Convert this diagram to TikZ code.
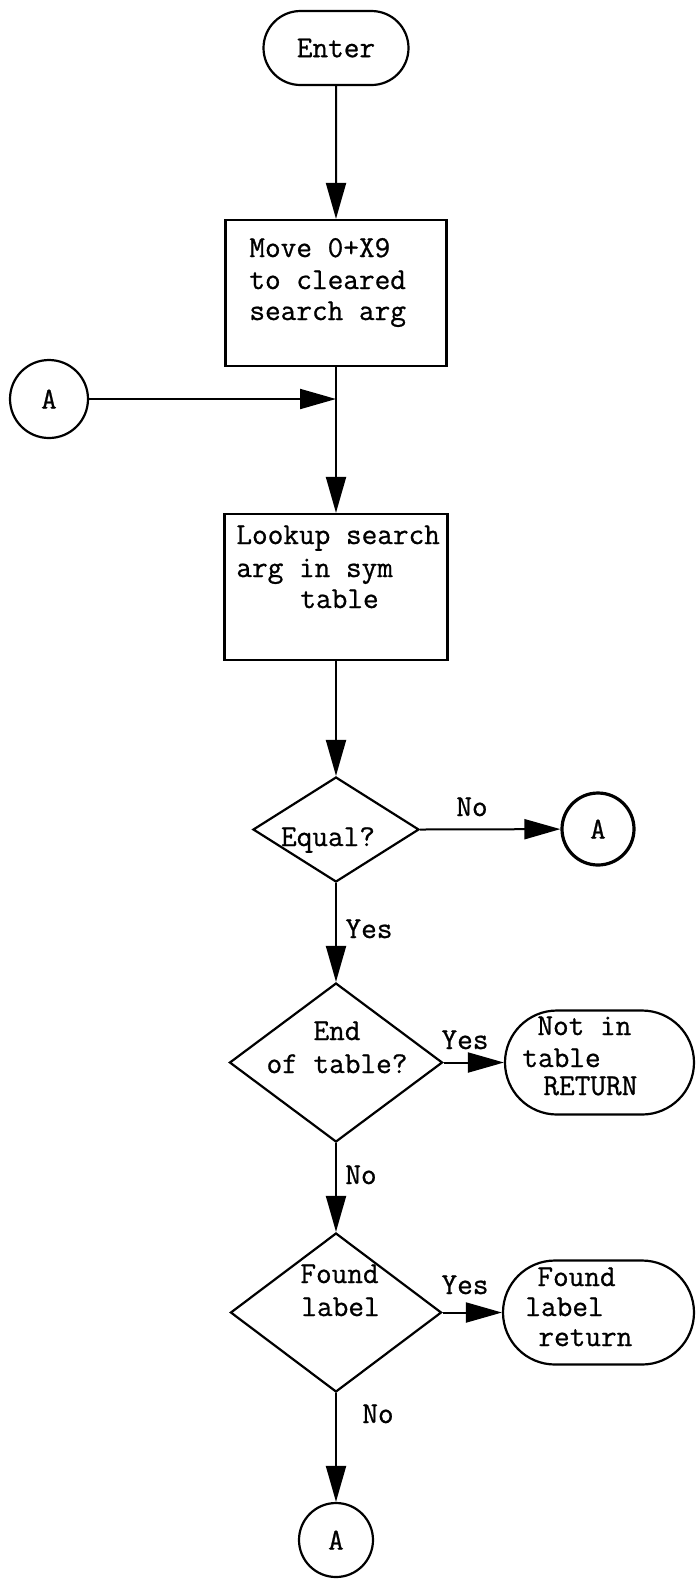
\documentclass[tikz,border=0pt]{standalone}
\usepackage{fontspec}
\setmonofont[RawFeature={embolden=0.8}, BoldFont={Latin Modern Mono}, BoldFeatures={FakeBold=2.2}]{Latin Modern Mono}
\usetikzlibrary{shapes.geometric,shapes.misc,arrows.meta}
\newcommand{\tf}{\fontsize{15.2}{18}\ttfamily}
\begin{document}
\begin{tikzpicture}[x=0.5pt,y=-0.5pt,
  flow/.style={draw,line width=1.1pt,inner sep=0pt,font=\tf},
  procbox/.style={flow,rectangle},
  term/.style={flow,rounded rectangle},
  decide/.style={flow,diamond},
  conn/.style={flow,circle,font=\tf\bfseries},
  txt/.style={inner sep=0pt,anchor=base west,font=\tf},
  ctxt/.style={inner sep=0pt,anchor=base,font=\tf},
  blbl/.style={ctxt,font=\tf\bfseries},
  arr/.style={-{Triangle[length=18pt,width=10pt]},line width=1pt}]
\useasboundingbox (0,0) rectangle (696,1587);
% shapes
\node[term, minimum width=72.5pt, minimum height=37pt] (enter) at (336,48) {Enter};
\node[procbox, minimum width=110.5pt, minimum height=73pt] (box1) at (336,293) {};
\node[conn, minimum size=39pt] (ca1) at (49,399) {A};
\coordinate (junc) at (336,399);
\node[procbox, minimum width=111.5pt, minimum height=73pt] (look) at (336,587) {};
\node[decide, minimum width=83pt, minimum height=52.5pt] (equal) at (336,829.5) {};
\node[conn, minimum size=36pt, line width=1.6pt] (ca2) at (598,829) {A};
\node[decide, minimum width=106.5pt, minimum height=79.5pt] (endt) at (336,1062.5) {};
\node[term, minimum width=94.5pt, minimum height=52pt] (notin) at (599.5,1062.5) {};
\node[decide, minimum width=105.5pt, minimum height=79.5pt] (found) at (336,1312.5) {};
\node[term, minimum width=95.5pt, minimum height=52pt] (fret) at (598.5,1312.5) {};
\node[conn, minimum size=37pt] (ca3) at (336,1540) {A};
% texts
\node[txt] (t1a) at (249,257) {Move 0+X9};
\node[txt] (t1b) at (249,289) {to cleared};
\node[txt] (t1c) at (249,320) {search arg};
\node[txt] (t2a) at (236,544) {Lookup search};
\node[txt] (t2b) at (236,577) {arg in sym};
\node[txt] (t2c) at (300,608) {table};
\node[ctxt] (t3) at (328,846) {Equal?};
\node[ctxt] (t4a) at (337,1040) {End};
\node[ctxt] (t4b) at (337,1073) {of table?};
\node[txt] (t5a) at (537,1035) {Not in};
\node[txt] (t5b) at (522,1067) {table};
\node[txt] (t5c) at (543,1095) {RETURN};
\node[txt] (t6a) at (300,1283) {Found};
\node[txt] (t6b) at (301,1316) {label};
\node[txt] (t7a) at (537,1286) {Found};
\node[txt] (t7b) at (525,1316) {label};
\node[txt] (t7c) at (538,1346) {return};
% labels
\node[ctxt] (l1) at (472,816) {No};
\node[blbl] (l2) at (369,938) {Yes};
\node[blbl] (l3) at (465,1049) {Yes};
\node[ctxt] (l4) at (361,1184) {No};
\node[blbl] (l5) at (465,1294) {Yes};
\node[blbl] (l6) at (378,1423) {No};
% connectors
\draw[arr] (enter) -- (box1);
\draw[line width=1pt] (box1.south) -- (junc);
\draw[arr] (ca1) -- (junc);
\draw[arr] (junc) -- (look.north);
\draw[arr] (look) -- (equal);
\draw[arr] (equal.east) -- (ca2);
\draw[arr] (equal) -- (endt);
\draw[arr] (endt.east) -- (notin.west);
\draw[arr] (endt) -- (found);
\draw[arr] (found.east) -- (fret.west);
\draw[arr] (found) -- (ca3);
\end{tikzpicture}
\end{document}
